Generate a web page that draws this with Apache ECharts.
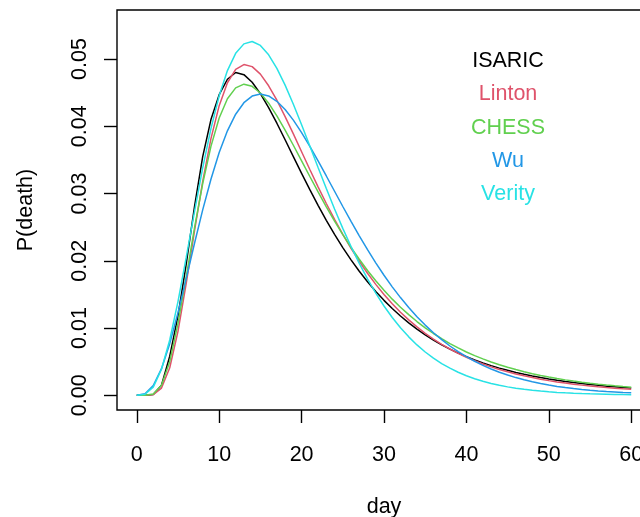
<!DOCTYPE html>
<html><head><meta charset="utf-8">
<script src="https://cdn.jsdelivr.net/npm/echarts@6/dist/echarts.min.js"></script>
<style>html,body{margin:0;padding:0;background:#fff}#c{width:640px;height:517px}</style>
</head><body><div id="c"></div>
<script>
const days = [0,1,2,3,4,5,6,7,8,9,10,11,12,13,14,15,16,17,18,19,20,21,22,23,24,25,26,27,28,29,30,31,32,33,34,35,36,37,38,39,40,41,42,43,44,45,46,47,48,49,50,51,52,53,54,55,56,57,58,59,60];
const isaric = [0,0,0.0001,0.0015,0.0058,0.0118,0.0195,0.0280,0.0355,0.0410,0.0447,0.0470,0.0480,0.04768,0.04655,0.04486,0.04278,0.04046,0.038,0.0355,0.03301,0.03058,0.02825,0.02602,0.02393,0.02196,0.02014,0.01844,0.01688,0.01543,0.01411,0.01289,0.01178,0.01076,0.00983,0.00899,0.00821,0.0075,0.00686,0.00627,0.00574,0.00525,0.00481,0.0044,0.00403,0.0037,0.00339,0.00311,0.00286,0.00262,0.00241,0.00222,0.00204,0.00188,0.00173,0.00159,0.00147,0.00135,0.00125,0.00115,0.00106];
const linton = [0,0,0.0001,0.00106,0.00408,0.0095,0.01665,0.02442,0.03182,0.03816,0.04307,0.04648,0.04846,0.04918,0.04888,0.04776,0.04603,0.04388,0.04145,0.03887,0.03622,0.03358,0.031,0.02852,0.02616,0.02393,0.02186,0.01993,0.01814,0.01649,0.01498,0.01361,0.01235,0.0112,0.01016,0.00921,0.00835,0.00757,0.00687,0.00623,0.00565,0.00512,0.00465,0.00422,0.00383,0.00348,0.00317,0.00288,0.00262,0.00238,0.00217,0.00198,0.0018,0.00164,0.0015,0.00137,0.00125,0.00114,0.00104,0.00095,0.00087];
const chess = [0,0,0.00017,0.00149,0.00499,0.01066,0.01763,0.02486,0.03148,0.03702,0.04124,0.0441,0.04572,0.04627,0.04595,0.04495,0.04344,0.04156,0.03944,0.03718,0.03485,0.03253,0.03024,0.02802,0.0259,0.02389,0.02199,0.02022,0.01856,0.01703,0.01561,0.01429,0.01309,0.01198,0.01096,0.01003,0.00918,0.0084,0.00768,0.00703,0.00643,0.00589,0.0054,0.00494,0.00453,0.00415,0.00381,0.00349,0.0032,0.00294,0.0027,0.00248,0.00228,0.0021,0.00193,0.00178,0.00164,0.00151,0.00139,0.00128,0.00118];
const wu = [0,0.00022,0.00143,0.00395,0.00767,0.01226,0.01735,0.02256,0.02757,0.03213,0.03609,0.03933,0.0418,0.04351,0.0445,0.04481,0.04452,0.04372,0.04249,0.04092,0.03907,0.03703,0.03486,0.03261,0.03034,0.02807,0.02586,0.02371,0.02165,0.01969,0.01785,0.01612,0.01452,0.01304,0.01167,0.01043,0.00929,0.00826,0.00732,0.00648,0.00573,0.00505,0.00444,0.0039,0.00342,0.003,0.00262,0.00229,0.002,0.00174,0.00151,0.00131,0.00114,0.00099,0.00086,0.00074,0.00064,0.00055,0.00048,0.00041,0.00035];
const verity = [0,0.00014,0.0012,0.00386,0.00822,0.01393,0.02049,0.02728,0.03381,0.03966,0.04454,0.04829,0.05085,0.05226,0.05262,0.05203,0.05064,0.04862,0.04613,0.04328,0.04023,0.03706,0.03387,0.03074,0.02771,0.02482,0.02212,0.0196,0.01729,0.01518,0.01327,0.01156,0.01003,0.00868,0.00748,0.00643,0.00551,0.00471,0.00402,0.00342,0.0029,0.00246,0.00208,0.00175,0.00147,0.00124,0.00104,0.00087,0.00073,0.00061,0.00051,0.00042,0.00035,0.00029,0.00024,0.0002,0.00017,0.00014,0.00011,0.00009,0.00008];
const seriesNames = ['ISARIC','Linton','CHESS','Wu','Verity'];
const seriesColors = ['#000000','#DF536B','#61D04F','#2297E6','#28E2E5'];
const xTicks = [0,10,20,30,40,50,60];
const yTicks = [0,0.01,0.02,0.03,0.04,0.05];
const xTitle = 'day';
const yTitle = 'P(death)';

const values = [isaric, linton, chess, wu, verity];
const FONT = '"Liberation Sans", Arial, Helvetica, sans-serif';
const FS = 21.5;
const chart = echarts.init(document.getElementById('c'), null, {renderer: 'canvas'});
const option = {
  animation: false,
  backgroundColor: '#ffffff',
  grid: {left: 117, top: 10, width: 534, height: 400, show: true, borderColor: '#000', borderWidth: 1.4,
    backgroundColor: 'transparent', containLabel: false, outerBoundsMode: 'none'},
  xAxis: {
    type: 'value', min: -2.4, max: 62.4,
    axisLine: {show: false, onZero: false}, splitLine: {show: false},
    axisTick: {show: true, customValues: xTicks, length: 13, inside: false, lineStyle: {color: '#000', width: 1.4}},
    axisLabel: {customValues: xTicks, margin: 34, fontSize: FS, color: '#000', fontFamily: FONT},
    name: xTitle, nameLocation: 'middle', nameGap: 86,
    nameTextStyle: {fontSize: FS, color: '#000', fontFamily: FONT}
  },
  yAxis: {
    type: 'value', min: -0.0022, max: 0.0573,
    axisLine: {show: false, onZero: false}, splitLine: {show: false},
    axisTick: {show: true, customValues: yTicks, length: 13, inside: false, lineStyle: {color: '#000', width: 1.4}},
    axisLabel: {customValues: yTicks, rotate: 90, margin: 26, fontSize: FS, color: '#000', fontFamily: FONT,
      formatter: v => v.toFixed(2)},
    name: yTitle, nameLocation: 'middle', nameGap: 80, nameRotate: 90,
    nameTextStyle: {fontSize: FS, color: '#000', fontFamily: FONT}
  },
  series: values.map((v, i) => ({
    type: 'line', name: seriesNames[i],
    data: days.map((d, j) => [d, v[j]]),
    showSymbol: false, symbol: 'none', smooth: false,
    lineStyle: {color: seriesColors[i], width: 1.5},
    itemStyle: {color: seriesColors[i]},
    z: 2 + i
  })),
  graphic: seriesNames.map((n, i) => ({
    type: 'text', x: 508, y: 61 + i * 33.3,
    style: {text: n, fill: seriesColors[i], fontSize: FS, fontFamily: FONT, align: 'center', verticalAlign: 'middle'}
  }))
};
chart.setOption(option);
</script>
</body></html>
